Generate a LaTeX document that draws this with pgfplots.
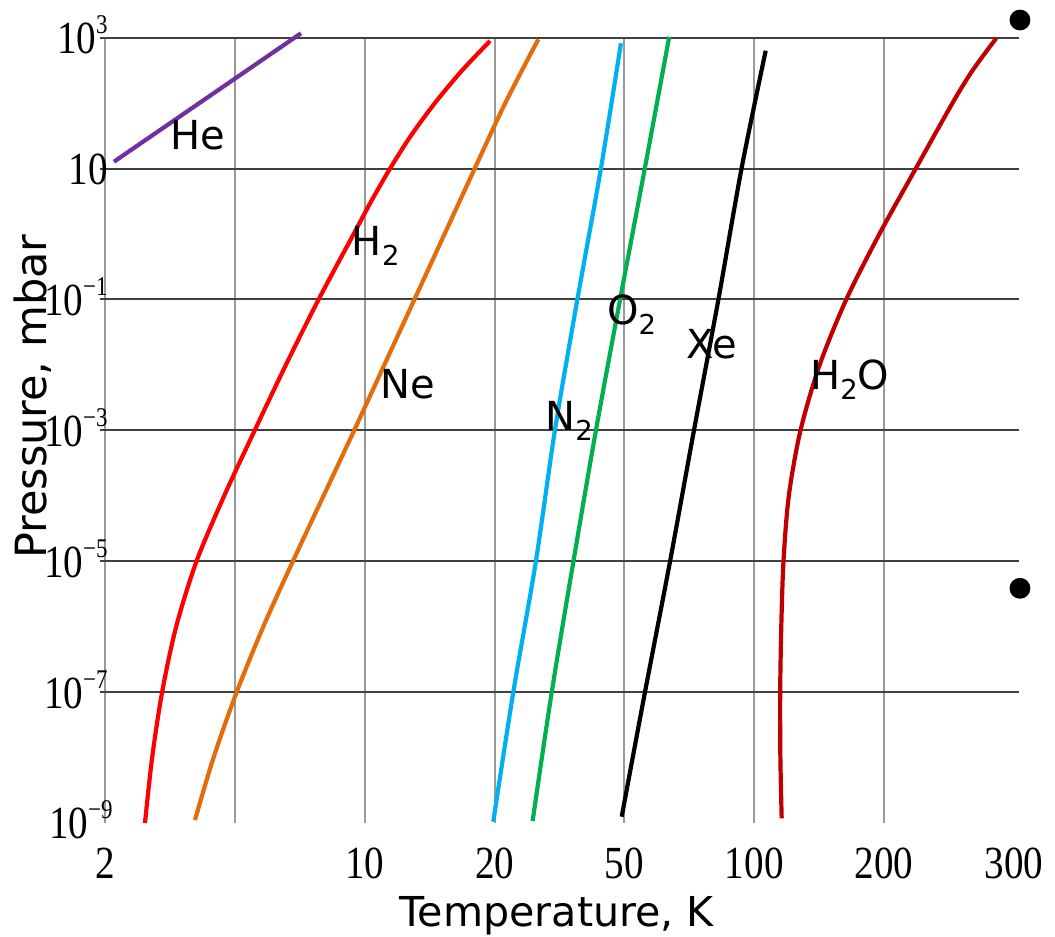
\documentclass[border=0pt]{standalone}
\usepackage{fontspec}
\setmainfont{DejaVu Sans}
\newfontfamily\tickfont[FakeStretch=0.85]{Liberation Serif}
\usepackage{pgfplots}
\pgfplotsset{compat=1.18}

\definecolor{cHe}{HTML}{7030A0}
\definecolor{cHtwo}{HTML}{FF0000}
\definecolor{cNe}{HTML}{E46C0A}
\definecolor{cNtwo}{HTML}{00B0F0}
\definecolor{cOtwo}{HTML}{00B050}
\definecolor{cXe}{HTML}{000000}
\definecolor{cWater}{HTML}{C00000}

\newcommand\pw[1]{10\raisebox{10pt}{\fontsize{13.5}{14}\selectfont #1}}
\newcommand\lbl{\fontsize{20}{24}\selectfont}
\newcommand\sub[1]{\raisebox{-5pt}{\fontsize{13.7}{14}\selectfont #1}}

\pgfplotstableread{
x y
0.069 1.105
1.509 3.067
}\He
\pgfplotstableread{
x y
0.308 -9.0
0.363 -8
0.440 -7
0.548 -6
0.705 -5
0.918 -4
1.153 -3
1.393 -2
1.645 -1
1.915 0
2.050 0.5
2.195 1
2.355 1.5
2.540 2
2.750 2.5
2.965 2.95
}\Htwo
\pgfplotstableread{
x y
0.693 -8.954
0.836 -8
1.014 -7
1.219 -6
1.447 -5
1.683 -4
1.919 -3
2.151 -2
2.383 -1
2.615 0
2.847 1
3.082 2
3.337 2.976
}\Ne
\pgfplotstableread{
x y
2.990 -8.98
3.144 -7.003
3.317 -5.017
3.465 -2.995
3.637 -1.008
3.820 1.013
3.973 2.914
}\Ntwo
\pgfplotstableread{
x y
3.293 -8.97
3.440 -7.003
3.606 -5.017
3.781 -2.995
3.966 -1.008
4.158 1.013
4.345 3.015
}\Otwo
\pgfplotstableread{
x y
3.979 -8.904
4.158 -7.003
4.350 -5.017
4.536 -2.995
4.723 -1.008
4.903 1.013
5.088 2.801
}\Xe
\pgfplotstableread{
x y
5.211 -8.928
5.201 -8
5.1995 -7
5.208 -6
5.225 -5
5.266 -4
5.356 -3
5.5035 -2
5.7085 -1
5.9635 0
6.2435 1
6.526 2
6.681 2.5
6.863 2.991
}\Water
\pgfplotstableread{
x y
7.046 3.270
7.046 -5.414
}\Dots

\begin{document}
\begin{tikzpicture}
\useasboundingbox (-52.5pt,-57pt) rectangle (475pt,411.5pt);
\begin{axis}[
  at={(0,0)}, anchor=south west,
  scale only axis, width=454.5pt, height=392.65pt,
  xmin=0, xmax=7, ymin=-9, ymax=3,
  clip=false,
  axis line style={draw=none},
  major tick length=2.5pt, tick align=outside,
  xtick style={draw=none},
  ytick style={draw=black!75, line width=1pt},
  xtick={0,1,2,3,4,5,6},
  xticklabels={2,,10,20,50,100,200},
  extra x ticks={7}, extra x tick labels={300},
  extra x tick style={grid=none},
  ytick={-7,-5,-3,-1,1,3},
  yticklabels={\pw{−7},\pw{−5},\pw{−3},\pw{−1},10\hspace{4.5pt},\pw{3}},
  extra y ticks={-9}, extra y tick labels={\pw{−9}},
  extra y tick style={grid=none, major tick length=0pt},
  xmajorgrids, ymajorgrids,
  x grid style={draw=black!40, line width=1pt},
  y grid style={draw=black!75, line width=1pt},
  xticklabel style={font=\tickfont\fontsize{23}{26}\selectfont, anchor=north, inner sep=0pt, yshift=-10pt},
  yticklabel style={font=\tickfont\fontsize{23}{26}\selectfont, anchor=base east, inner sep=0pt, xshift=4pt, yshift=-8pt},
  xlabel={Temperature, K},
  ylabel={Pressure, mbar},
  xlabel style={at={(axis description cs:0.497,-0.132)}, anchor=base, inner sep=0pt, font=\fontsize{20.6}{24}\selectfont},
  ylabel style={at={(axis description cs:-0.0641,0.543)}, anchor=base, inner sep=0pt, font=\fontsize{21.5}{24}\selectfont},
]
\addplot[cHe, line width=2.1pt] table {\He};
\addplot[cHtwo, line width=2.1pt, smooth] table {\Htwo};
\addplot[cNe, line width=2.1pt, smooth] table {\Ne};
\addplot[cNtwo, line width=2.1pt, smooth] table {\Ntwo};
\addplot[cOtwo, line width=2.1pt, smooth] table {\Otwo};
\addplot[cXe, line width=2.1pt, smooth] table {\Xe};
\addplot[cWater, line width=2.1pt, smooth] table {\Water};
\addplot[only marks, mark=*, mark size=5pt, black] table {\Dots};

\node[anchor=base west, inner sep=0pt, font=\lbl] at (axis cs:0.5005,1.284) {He};
\node[anchor=base west, inner sep=0pt, font=\lbl] at (axis cs:1.899,-0.321) {H\sub{2}};
\node[anchor=base west, inner sep=0pt, font=\lbl] at (axis cs:2.117,-2.510) {Ne};
\node[anchor=base west, inner sep=0pt, font=\lbl] at (axis cs:3.388,-2.995) {N\sub{2}};
\node[anchor=base west, inner sep=0pt, font=\lbl] at (axis cs:3.863,-1.390) {O\sub{2}};
\node[anchor=base west, inner sep=0pt, font=\lbl] at (axis cs:4.474,-1.895) {Xe};
\node[anchor=base west, inner sep=0pt, font=\lbl] at (axis cs:5.429,-2.383) {H\sub{2}O};
\end{axis}
\end{tikzpicture}
\end{document}
